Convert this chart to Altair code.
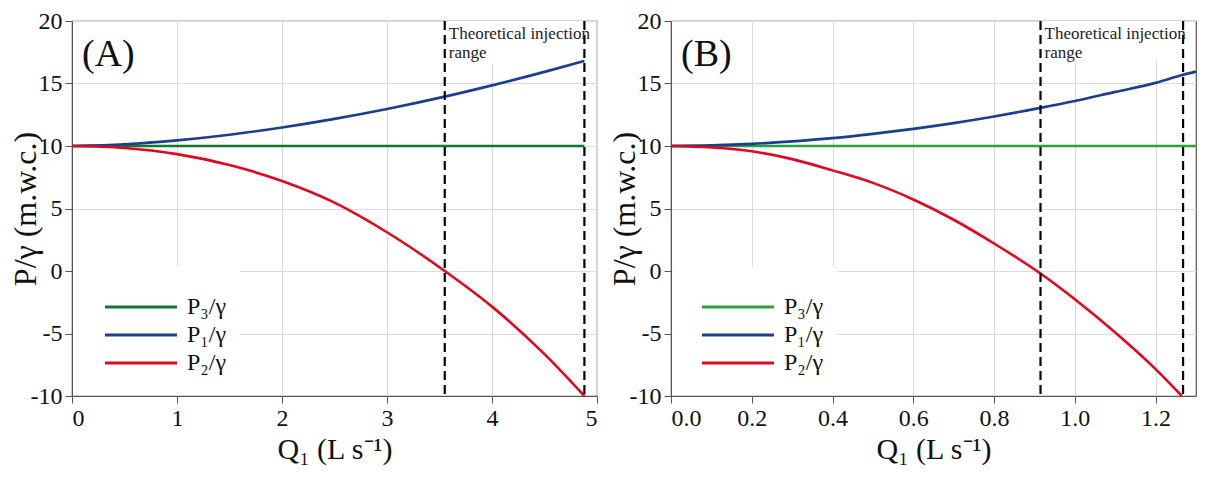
import altair as alt
import pandas as pd

FONT = "Liberation Serif"

# ---- Panel A data ----
qa = [0, 0.5, 1, 1.5, 2, 2.5, 3, 3.55, 4, 4.5, 4.88]
p1a = [10, 10.14, 10.45, 10.9, 11.48, 12.17, 12.96, 13.95, 14.85, 15.93, 16.8]
p2a = [10, 9.84, 9.35, 8.48, 7.2, 5.47, 3.1, 0.0, -2.85, -6.65, -10]
p3a = [10] * len(qa)
dash_a = [3.55, 4.88]

# ---- Panel B data ----
qb = [0, 0.1, 0.2, 0.3, 0.4, 0.5, 0.6, 0.7, 0.8, 0.915, 1.0, 1.1, 1.2, 1.268, 1.3]
p1b = [10, 10.05, 10.17, 10.37, 10.63, 10.97, 11.37, 11.83, 12.36, 13.05, 13.6, 14.33, 15.05, 15.7, 15.95]
qb2 = [0, 0.1, 0.2, 0.3, 0.4, 0.5, 0.6, 0.7, 0.8, 0.915, 1.0, 1.1, 1.2, 1.265]
p2b = [10, 9.88, 9.58, 8.95, 8.05, 7.05, 5.72, 4.1, 2.2, -0.2, -2.26, -4.92, -7.85, -10]
p3b = [10] * len(qb)
dash_b = [0.915, 1.268]

names = ["P₃/γ", "P₁/γ", "P₂/γ"]
colors_a = ["#12782f", "#1b3f8c", "#e2061f"]
colors_b = ["#27a33a", "#1b3f8c", "#e2061f"]

annot = "Theoretical injection\nrange"

W, H = 525, 375


def long_df(q1, p1, q2, p2, q3, p3):
    rows = []
    for q, v in zip(q3, p3):
        rows.append({"Q": q, "P": v, "series": names[0]})
    for q, v in zip(q1, p1):
        rows.append({"Q": q, "P": v, "series": names[1]})
    for q, v in zip(q2, p2):
        rows.append({"Q": q, "P": v, "series": names[2]})
    return pd.DataFrame(rows)


def panel(df, dashes, xdomain, xvalues, xexpr, colors, label, label_x, box_bottom,
          leg_box, leg_x):
    x_scale = alt.Scale(domain=xdomain, nice=False, zero=False)
    y_scale = alt.Scale(domain=[-10, 20], nice=False)
    x_axis = alt.Axis(values=xvalues, labelExpr=xexpr, title="Q₁ (L s⁻¹)", titlePadding=4,
                      titleFontSize=30)
    y_axis = alt.Axis(values=[-10, -5, 0, 5, 10, 15, 20], labelExpr="'' + datum.value",
                      title="P/γ (m.w.c.)", titleX=-30)

    base = alt.Chart(df).encode(
        x=alt.X("Q:Q", scale=x_scale, axis=x_axis),
        y=alt.Y("P:Q", scale=y_scale, axis=y_axis),
    )
    lines = base.mark_line(strokeWidth=2.6, interpolate="monotone").encode(
        color=alt.Color("series:N",
                        scale=alt.Scale(domain=names, range=colors),
                        sort=names,
                        legend=alt.Legend(title=None, orient="none", legendX=leg_x, legendY=274,
                                          symbolType="M-6,0H6", symbolSize=144,
                                          symbolStrokeWidth=3, labelFont=FONT,
                                          labelFontSize=24, labelColor="#111",
                                          padding=0, rowPadding=4,
                                          labelOffset=34))
    )

    # white backgrounds behind the annotation and the legend (hide grid lines)
    box_df = pd.DataFrame({"x": [dashes[0], leg_box[0]], "x2": [dashes[1], leg_box[1]],
                           "y": [20, leg_box[2]], "y2": [box_bottom, leg_box[3]]})
    box = alt.Chart(box_df).mark_rect(color="white").encode(
        x=alt.X("x:Q", scale=x_scale, axis=x_axis), x2="x2:Q",
        y=alt.Y("y:Q", scale=y_scale, axis=y_axis), y2="y2:Q")

    dash_df = pd.DataFrame({"x": dashes})
    rules = alt.Chart(dash_df).mark_rule(color="black", strokeWidth=2.2, strokeDash=[9, 5]).encode(
        x=alt.X("x:Q", scale=x_scale, axis=x_axis))

    ann_df = pd.DataFrame({"x": [dashes[0]], "y": [20], "t": [annot.split("\n")]})
    ann = alt.Chart(ann_df).mark_text(align="left", baseline="top", dx=4, dy=5,
                                       font=FONT, fontSize=17, color="#222",
                                       lineHeight=19).encode(
        x=alt.X("x:Q", scale=x_scale, axis=x_axis), y=alt.Y("y:Q", scale=y_scale, axis=y_axis),
        text="t")

    lab_df = pd.DataFrame({"x": [label_x], "y": [17.3], "t": [label]})
    lab = alt.Chart(lab_df).mark_text(align="left", baseline="middle", font=FONT,
                                       fontSize=38, color="#111").encode(
        x=alt.X("x:Q", scale=x_scale, axis=x_axis), y=alt.Y("y:Q", scale=y_scale, axis=y_axis),
        text="t")

    return alt.layer(box, lines, rules, ann, lab).properties(width=W, height=H)


dfa = long_df(qa, p1a, qa, p2a, qa, p3a)
dfb = long_df(qb, p1b, qb2, p2b, qb, p3b)

pa = panel(dfa, dash_a, [0, 5], [0, 1, 2, 3, 4, 5], "'' + datum.value", colors_a, "(A)", 0.095,
           16.6, [0.015, 1.6, -9.88, 0.35], 57)
pb = panel(dfb, dash_b, [0, 1.3], [0, 0.2, 0.4, 0.6, 0.8, 1.0, 1.2],
           "format(datum.value, '.1f')", colors_b, "(B)", 0.025, 16.9,
           [0.004, 0.41, -9.88, 0.35], 55)

chart = alt.hconcat(pa, pb, spacing=8).resolve_scale(color="independent").configure_view(
    stroke="#555", strokeWidth=1.2
).configure_axis(
    labelFont=FONT, titleFont=FONT, labelFontSize=24, titleFontSize=32,
    titleFontWeight="normal", labelColor="#111", titleColor="#111",
    gridColor="#dcdcdc", domainColor="#555", tickColor="#555", tickSize=7,
    labelPadding=3
).properties(padding=0, background="white")

chart.save("out.html", embed_options={"renderer": "svg", "actions": False})
